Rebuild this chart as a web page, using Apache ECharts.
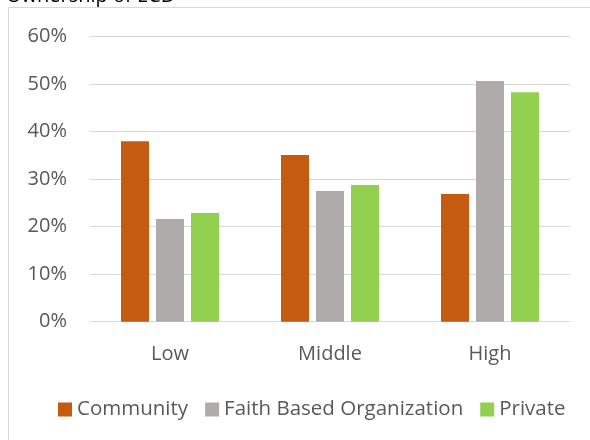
<!DOCTYPE html>
<html><head><meta charset="utf-8">
<script src="https://cdn.jsdelivr.net/npm/echarts@6/dist/echarts.min.js"></script>
<style>html,body{margin:0;padding:0;background:#fff}#c{width:590px;height:440px}</style>
</head><body><div id="c"></div>
<script>
var categories = ['Low', 'Middle', 'High'];
var community = [38.0, 35.1, 26.9];
var faith = [21.6, 27.5, 50.7];
var privateOwn = [22.9, 28.8, 48.3];
var seriesNames = ['Community', 'Faith Based Organization', 'Private'];
var colors = ['#C55A11', '#AFABAB', '#92D050'];
var yTicks = [0, 10, 20, 30, 40, 50, 60];

var font = 'Open Sans';
var chart = echarts.init(document.getElementById('c'));
chart.setOption({
  animation: false,
  color: colors,
  graphic: [
    {type: 'rect', shape: {x: 8.5, y: 7.5, width: 600, height: 450}, style: {fill: 'none', stroke: '#D9D9D9', lineWidth: 1}, silent: true},
    {type: 'text', x: 6, y: 6, style: {text: 'Ownership of ECD', fill: '#000', font: '20px "Open Sans"', verticalAlign: 'bottom'}}
  ],
  grid: {left: 90, right: 20, top: 36.7, bottom: 118.3, containLabel: false},
  legend: {
    top: 394, left: 53, itemWidth: 14, itemHeight: 14, itemGap: 17,
    icon: 'rect',
    textStyle: {color: '#595959', fontSize: 20.5, fontFamily: font},
    data: seriesNames
  },
  xAxis: {
    type: 'category', data: categories,
    axisLine: {lineStyle: {color: '#D9D9D9', width: 1}},
    axisTick: {show: false},
    axisLabel: {color: '#595959', fontSize: 20, fontFamily: font, margin: 23}
  },
  yAxis: {
    type: 'value', min: 0, max: 60, interval: 10,
    axisLine: {show: false}, axisTick: {show: false},
    axisLabel: {color: '#595959', fontSize: 20, fontFamily: font, margin: 23,
      formatter: function (v) { return v + '%'; }},
    splitLine: {lineStyle: {color: '#D9D9D9', width: 1}}
  },
  series: [
    {name: seriesNames[0], type: 'bar', data: community, barWidth: 28, barGap: '25%'},
    {name: seriesNames[1], type: 'bar', data: faith, barWidth: 28, barGap: '25%'},
    {name: seriesNames[2], type: 'bar', data: privateOwn, barWidth: 28, barGap: '25%'}
  ]
});
</script></body></html>
